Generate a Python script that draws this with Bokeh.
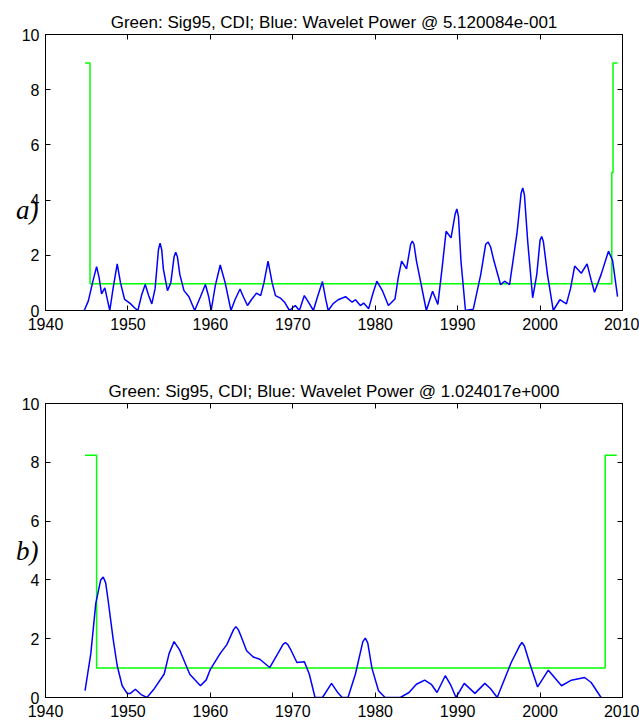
from bokeh.plotting import figure
from bokeh.layouts import column
from bokeh.models import Range1d, FixedTicker, LinearAxis
from bokeh.embed import file_html
from bokeh.resources import INLINE

# Panel a): wavelet power at period 5.120084e-001 and its 95% significance (with cone of influence)
power_a_year = [1944.7, 1945.2, 1945.7, 1946.2, 1946.5, 1946.8, 1947.2, 1947.5, 1947.8, 1948.2,
                1948.7, 1949.1, 1949.6, 1950.3, 1950.8, 1951.2, 1951.7, 1952.1, 1952.5, 1952.9,
                1953.3, 1953.7, 1953.9, 1954.1, 1954.3, 1954.8, 1955.2, 1955.6, 1955.8, 1956.0,
                1956.3, 1956.8, 1957.4, 1958.1,
                1958.8, 1959.4, 1959.8, 1960.1, 1960.6, 1961.2, 1961.8, 1962.5, 1963.0, 1963.6,
                1964.0, 1964.5, 1965.0, 1965.6, 1966.1, 1966.5, 1967.0, 1967.5, 1967.9, 1968.5,
                1969.0, 1969.6, 1970.3, 1970.8, 1971.4, 1971.9, 1972.5, 1973.0, 1973.6, 1974.0,
                1974.3, 1974.9, 1975.5, 1976.4, 1977.2, 1977.6, 1978.2, 1978.6, 1979.2, 1979.7,
                1980.2, 1980.9, 1981.6, 1982.4, 1982.8, 1983.2, 1983.8, 1984.3, 1984.5, 1984.7,
                1985.0, 1985.6, 1986.2, 1986.96, 1987.6, 1988.1, 1988.6, 1989.2, 1989.7, 1989.9,
                1990.1, 1990.4, 1990.95, 1991.9, 1992.8, 1993.4, 1993.7, 1994.0, 1994.4, 1995.2,
                1995.7, 1996.3, 1997.2, 1997.7, 1997.9, 1998.1, 1998.5, 1999.1, 1999.6, 2000.0,
                2000.2, 2000.4, 2000.9, 2001.6, 2002.4, 2003.2, 2003.7, 2004.2, 2005.0, 2005.7,
                2006.2, 2006.6, 2007.4, 2008.3, 2008.8, 2009.4]
power_a = [0.0, 0.35, 1.0, 1.59, 1.2, 0.6, 0.82, 0.4, 0.0, 0.8,
           1.69, 1.0, 0.4, 0.25, 0.1, 0.0, 0.6, 0.94, 0.55, 0.24,
           0.8, 2.2, 2.44, 2.2, 1.5, 0.72, 1.0, 1.95, 2.11, 1.95,
           1.3, 0.72, 0.5, 0.0,
           0.5, 0.94, 0.5, 0.0, 0.9, 1.65, 1.0, 0.0, 0.4, 0.78,
           0.5, 0.18, 0.4, 0.63, 0.54, 1.0, 1.79, 1.0, 0.54, 0.45,
           0.3, 0.0, 0.18, 0.0, 0.54, 0.3, 0.0, 0.5, 1.05, 0.4,
           0.0, 0.25, 0.39, 0.5, 0.3, 0.39, 0.18, 0.27, 0.06, 0.6,
           1.06, 0.7, 0.18, 0.42, 1.2, 1.79, 1.51, 2.4, 2.51, 2.4,
           1.8, 0.9, 0.0, 0.7, 0.22, 1.5, 2.87, 2.63, 3.5, 3.68,
           3.4, 1.8, 0.0, 0.05, 1.3, 2.4, 2.48, 2.3, 1.8, 0.94,
           1.06, 0.94, 2.8, 4.25, 4.44, 4.2, 2.5, 0.46, 1.3, 2.55,
           2.68, 2.5, 1.3, 0.0, 0.39, 0.24, 0.8, 1.61, 1.35, 1.69,
           1.1, 0.66, 1.3, 2.15, 1.81, 0.5]
sig_a_year = [1944.8, 1945.4, 1945.4, 2008.7, 2008.7, 2008.85, 2008.85, 2009.4]
sig_a = [8.97, 8.97, 0.97, 0.97, 5.0, 5.0, 8.97, 8.97]

# Panel b): wavelet power at period 1.024017e+000
power_b_year = [1944.8, 1945.5, 1946.1, 1946.7, 1947.0, 1947.3, 1947.6, 1948.2, 1948.7, 1949.3,
                1949.9, 1950.3, 1950.9, 1951.6, 1952.3, 1953.2, 1954.4, 1955.0, 1955.6, 1956.3,
                1957.5, 1958.8, 1959.5, 1960.0, 1961.2, 1962.0, 1962.8, 1963.1, 1963.4, 1963.7,
                1964.4, 1965.2, 1966.0, 1967.2, 1968.2, 1968.8, 1969.1, 1969.4, 1969.8, 1970.5,
                1971.4, 1972.0, 1972.7, 1973.6, 1974.7, 1975.5, 1976.0, 1976.7, 1977.6, 1978.5,
                1978.8, 1979.1, 1979.6, 1980.4, 1981.2, 1983.05, 1984.1, 1985.0, 1986.0, 1986.8,
                1987.5, 1988.5, 1989.2, 1989.8, 1990.8, 1992.1, 1993.3, 1994.0, 1994.8, 1996.5,
                1997.5, 1997.8, 1998.1, 1998.7, 1999.7, 2001.0, 2002.6, 2003.8, 2005.4, 2006.2,
                2007.4]
power_b = [0.23, 1.5, 3.2, 4.0, 4.1, 3.9, 3.3, 2.0, 1.08, 0.4,
           0.14, 0.14, 0.28, 0.1, 0.0, 0.3, 0.8, 1.5, 1.9, 1.6,
           0.79, 0.4, 0.6, 0.96, 1.5, 1.8, 2.3, 2.41, 2.3, 2.1,
           1.59, 1.38, 1.3, 1.02, 1.5, 1.8, 1.87, 1.8, 1.6, 1.19,
           1.22, 0.8, 0.0, 0.0, 0.48, 0.15, 0.0, 0.0, 0.8, 1.9,
           2.02, 1.85, 1.0, 0.23, 0.0, 0.0, 0.17, 0.45, 0.59, 0.45,
           0.17, 0.74, 0.4, 0.0, 0.48, 0.14, 0.48, 0.3, 0.0, 1.19,
           1.75, 1.87, 1.75, 1.2, 0.36, 0.93, 0.4, 0.59, 0.68, 0.51,
           0.0]
sig_b_year = [1944.8, 1946.2, 1946.2, 2007.9, 2007.9, 2009.3]
sig_b = [8.24, 8.24, 1.0, 1.0, 8.24, 8.24]

x_ticks = [1940, 1950, 1960, 1970, 1980, 1990, 2000, 2010]
y_ticks = [0, 2, 4, 6, 8, 10]

TICK_FONT = "Liberation Sans"


def style_axis(ax, show_labels, standoff):
    ax.major_tick_in = 5
    ax.major_tick_out = 0
    ax.minor_tick_in = 0
    ax.minor_tick_out = 0
    ax.axis_line_color = "black"
    ax.major_tick_line_color = "black"
    ax.major_label_text_font = TICK_FONT
    if show_labels:
        ax.major_label_text_color = "black"
        ax.major_label_text_font_size = "16px"
        ax.major_label_standoff = standoff
    else:
        # tick marks only on the top and right edges
        ax.major_label_text_color = None
        ax.major_label_text_font_size = "1px"
        ax.major_label_standoff = 0


def make_panel(title, height, borders, years, power, sig_years, sig, tag, tag_at):
    left, right, top, bottom = borders
    p = figure(width=639, height=height, x_range=Range1d(1940, 2010), y_range=Range1d(0, 10),
               output_backend="svg", toolbar_location=None,
               min_border_left=left, min_border_right=right,
               min_border_top=top, min_border_bottom=bottom)
    p.title.text = title
    p.title.align = "center"
    p.title.text_font = "Liberation Sans"
    p.title.text_font_style = "normal"
    p.title.text_font_size = "17px"
    p.title.text_color = "black"
    p.title.standoff = 6
    p.grid.visible = False
    p.outline_line_color = "black"
    p.background_fill_color = "white"
    p.border_fill_color = "white"

    p.xaxis.ticker = FixedTicker(ticks=x_ticks)
    p.yaxis.ticker = FixedTicker(ticks=y_ticks)
    style_axis(p.xaxis[0], True, 7)
    style_axis(p.yaxis[0], True, 6)

    top_ax = LinearAxis(ticker=FixedTicker(ticks=x_ticks))
    right_ax = LinearAxis(ticker=FixedTicker(ticks=y_ticks))
    style_axis(top_ax, False, 0)
    style_axis(right_ax, False, 0)
    p.add_layout(top_ax, "above")
    p.add_layout(right_ax, "right")

    # panel tag, written as the single tick label of an extra, line-less left axis
    tag_ax = LinearAxis(ticker=FixedTicker(ticks=[tag_at]),
                        major_label_overrides={tag_at: tag},
                        axis_line_color=None, major_tick_line_color=None,
                        minor_tick_line_color=None,
                        major_tick_in=0, major_tick_out=0,
                        major_label_text_font="Liberation Serif",
                        major_label_text_font_style="italic",
                        major_label_text_font_size="27px",
                        major_label_text_color="black",
                        major_label_standoff=-20)
    p.add_layout(tag_ax, "left")

    p.line(sig_years, sig, line_color="#00ff00", line_width=1.5)
    p.line(years, power, line_color="#0000ff", line_width=1.5)
    return p


p1 = make_panel("Green: Sig95, CDI; Blue: Wavelet Power @ 5.120084e-001", 340,
                (43, 17, 34, 30), power_a_year, power_a, sig_a_year, sig_a, "a)", 3.64)
p2 = make_panel("Green: Sig95, CDI; Blue: Wavelet Power @ 1.024017e+000", 384,
                (45, 14, 63, 27), power_b_year, power_b, sig_b_year, sig_b, "b)", 5.0)

layout = column(p1, p2, spacing=0)
open("out.html", "w").write(file_html(layout, INLINE))
